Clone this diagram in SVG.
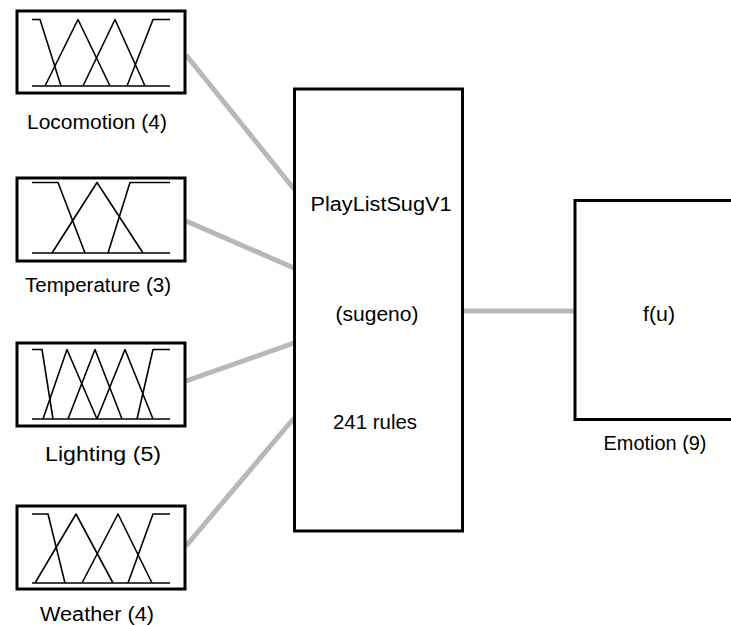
<svg xmlns="http://www.w3.org/2000/svg" width="731" height="625" viewBox="0 0 731 625">
<style>
.box{fill:#fff;stroke:#000;stroke-width:3}
.mf{fill:none;stroke:#000;stroke-width:1.6;stroke-linejoin:round}
.conn{stroke:#b8b8b8;stroke-width:5;fill:none}
text{font-family:"Liberation Sans",Arial,sans-serif;font-size:20px;fill:#000;text-anchor:middle}
</style>
<rect width="731" height="625" fill="#fff"/>
<g id="connectors">
<line class="conn" x1="186" y1="55" x2="294" y2="189"/>
<line class="conn" x1="186" y1="221" x2="294" y2="268"/>
<line class="conn" x1="186" y1="381" x2="294" y2="343"/>
<line class="conn" x1="186" y1="546" x2="294" y2="418"/>
<line class="conn" x1="463" y1="311" x2="574" y2="311"/>
</g>
<g id="locomotion">
<rect class="box" x="17" y="11" width="168" height="82"/>
<line class="mf" x1="32" y1="86" x2="170" y2="86"/>
<polyline class="mf" points="32,19.5 40,19.5 61,86"/>
<polyline class="mf" points="45,86 78,19.5 110,86"/>
<polyline class="mf" points="83,86 115,19.5 145,86"/>
<polyline class="mf" points="127,86 153,19.5 170,19.5"/>
<text x="97" y="129" textLength="140" lengthAdjust="spacingAndGlyphs">Locomotion (4)</text>
</g>
<g id="temperature">
<rect class="box" x="17" y="178" width="168" height="83"/>
<line class="mf" x1="32" y1="253" x2="170" y2="253"/>
<polyline class="mf" points="32,182.5 58,182.5 85,253"/>
<polyline class="mf" points="52,253 97,182.5 143,253"/>
<polyline class="mf" points="108,253 130,182.5 170,182.5"/>
<text x="98" y="292" textLength="146" lengthAdjust="spacingAndGlyphs">Temperature (3)</text>
</g>
<g id="lighting">
<rect class="box" x="17" y="343" width="168" height="83"/>
<line class="mf" x1="32" y1="419" x2="170" y2="419"/>
<polyline class="mf" points="32,349.5 42,349.5 53,419"/>
<polyline class="mf" points="43,419 67,349.5 97,419"/>
<polyline class="mf" points="68,419 95,349.5 122,419"/>
<polyline class="mf" points="97,419 125,349.5 153,419"/>
<polyline class="mf" points="137,419 153,349.5 170,349.5"/>
<text x="103" y="461" textLength="116" lengthAdjust="spacingAndGlyphs">Lighting (5)</text>
</g>
<g id="weather">
<rect class="box" x="17" y="506" width="168" height="83"/>
<line class="mf" x1="32" y1="583" x2="170" y2="583"/>
<polyline class="mf" points="32,514 48,514 65,583"/>
<polyline class="mf" points="35,583 76,514 113,583"/>
<polyline class="mf" points="82,583 118,514 152,583"/>
<polyline class="mf" points="128,583 153,514 170,514"/>
<text x="97" y="621" textLength="114" lengthAdjust="spacingAndGlyphs">Weather (4)</text>
</g>
<g id="playlistsug">
<rect class="box" x="294.5" y="89" width="168" height="442"/>
<text x="381" y="211" textLength="141" lengthAdjust="spacingAndGlyphs">PlayListSugV1</text>
<text x="377" y="321" textLength="83" lengthAdjust="spacingAndGlyphs">(sugeno)</text>
<text x="375" y="429" textLength="84" lengthAdjust="spacingAndGlyphs">241 rules</text>
</g>
<g id="emotion">
<rect class="box" x="575" y="200.5" width="170" height="219"/>
<text x="659" y="321" textLength="32" lengthAdjust="spacingAndGlyphs">f(u)</text>
<text x="655" y="450" textLength="103" lengthAdjust="spacingAndGlyphs">Emotion (9)</text>
</g>
</svg>
